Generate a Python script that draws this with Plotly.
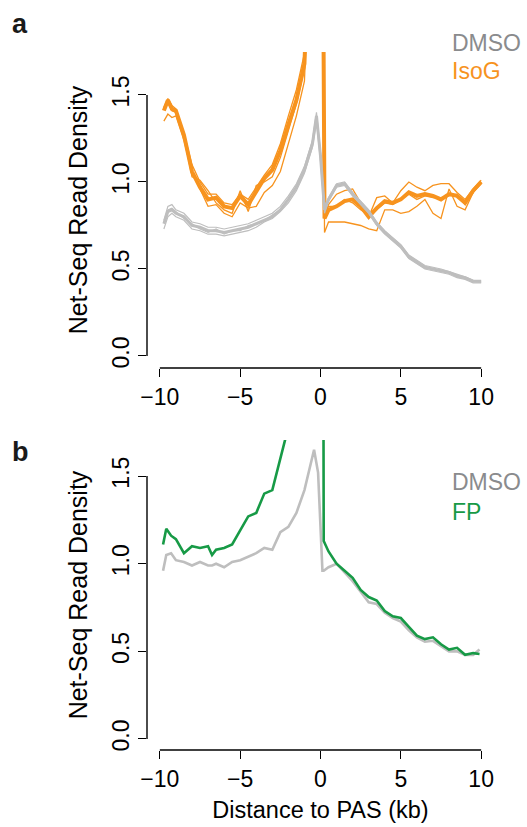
import plotly.graph_objects as go

# ---------------- Panel a data (distance to PAS, kb) ----------------
xa = [-9.75, -9.5, -9.25, -9.0, -8.5, -8.0, -7.5, -7.0, -6.5, -6.0, -5.5, -5.0, -4.5,
      -4.0, -3.5, -3.0, -2.5, -2.0, -1.5, -1.0, -0.5, -0.25, 0.0, 0.25, 0.5, 1.0,
      1.5, 2.0, 2.5, 3.0, 3.5, 4.0, 4.5, 5.0, 5.5, 6.0, 6.5, 7.0, 7.5, 8.0, 8.5,
      9.0, 9.5, 10.0]

dmso_a_mean = [0.76, 0.83, 0.84, 0.82, 0.80, 0.75, 0.74, 0.72, 0.72, 0.71, 0.72, 0.73,
               0.74, 0.76, 0.78, 0.80, 0.84, 0.90, 0.97, 1.07, 1.22, 1.38, 1.15, 0.84,
               0.90, 0.98, 0.99, 0.93, 0.88, 0.83, 0.76, 0.71, 0.67, 0.63, 0.57, 0.54,
               0.51, 0.50, 0.49, 0.48, 0.46, 0.45, 0.43, 0.43]
dmso_a_rep1 = [0.78, 0.86, 0.87, 0.84, 0.82, 0.77, 0.76, 0.74, 0.74, 0.73, 0.74, 0.75,
               0.76, 0.78, 0.80, 0.82, 0.86, 0.92, 0.99, 1.09, 1.24, 1.40, 1.17, 0.85,
               0.91, 0.99, 1.00, 0.94, 0.89, 0.84, 0.77, 0.72, 0.68, 0.64, 0.58, 0.55,
               0.52, 0.51, 0.50, 0.485, 0.47, 0.455, 0.435, 0.43]
dmso_a_rep2 = [0.73, 0.80, 0.82, 0.80, 0.78, 0.73, 0.72, 0.70, 0.70, 0.69, 0.70, 0.71,
               0.72, 0.74, 0.77, 0.79, 0.83, 0.88, 0.95, 1.05, 1.20, 1.35, 1.12, 0.82,
               0.89, 0.97, 0.98, 0.92, 0.87, 0.82, 0.75, 0.70, 0.66, 0.62, 0.56, 0.53,
               0.50, 0.49, 0.48, 0.47, 0.45, 0.44, 0.42, 0.42]
dmso_a_rep3 = [0.77, 0.84, 0.85, 0.83, 0.79, 0.76, 0.73, 0.71, 0.73, 0.70, 0.72, 0.72,
               0.75, 0.76, 0.78, 0.81, 0.84, 0.90, 0.97, 1.07, 1.23, 1.38, 1.15, 0.84,
               0.90, 0.98, 0.99, 0.93, 0.88, 0.83, 0.76, 0.71, 0.67, 0.63, 0.57, 0.54,
               0.51, 0.50, 0.49, 0.48, 0.46, 0.45, 0.43, 0.425]

isog_mean = [1.41, 1.47, 1.42, 1.41, 1.27, 1.06, 0.97, 0.90, 0.91, 0.86, 0.85, 0.92,
             0.87, 0.95, 1.02, 1.07, 1.18, 1.33, 1.47, 1.68, 2.6, 3.5, 5.0, 0.79,
             0.84, 0.86, 0.89, 0.90, 0.86, 0.80, 0.85, 0.89, 0.88, 0.90, 0.94, 0.92,
             0.93, 0.92, 0.90, 0.93, 0.92, 0.88, 0.95, 1.00]
isog_rep1 = [1.43, 1.48, 1.44, 1.42, 1.28, 1.10, 1.00, 0.93, 0.93, 0.88, 0.87, 0.93,
             0.90, 0.97, 1.04, 1.10, 1.22, 1.38, 1.53, 1.74, 2.7, 3.6, 5.2, 0.82,
             0.87, 0.93, 0.95, 0.96, 0.88, 0.80, 0.91, 0.92, 0.88, 0.95, 1.00, 0.97,
             0.95, 0.98, 0.99, 0.99, 0.94, 0.90, 0.96, 1.01]
isog_rep2 = [1.35, 1.39, 1.37, 1.38, 1.24, 1.05, 0.96, 0.86, 0.87, 0.82, 0.80, 0.88,
             0.85, 0.86, 0.94, 0.98, 1.06, 1.22, 1.38, 1.58, 2.4, 3.3, 4.8, 0.71,
             0.77, 0.77, 0.77, 0.76, 0.75, 0.73, 0.72, 0.84, 0.84, 0.82, 0.83, 0.86,
             0.90, 0.82, 0.79, 0.96, 0.86, 0.84, 0.94, 0.99]
isog_rep3 = [1.42, 1.46, 1.41, 1.40, 1.26, 1.03, 1.01, 0.95, 0.88, 0.84, 0.82, 0.95,
             0.83, 0.98, 1.00, 1.03, 1.14, 1.30, 1.45, 1.65, 2.5, 3.4, 5.0, 0.80,
             0.86, 0.86, 0.90, 0.88, 0.84, 0.81, 0.84, 0.88, 0.87, 0.90, 0.93, 0.90,
             0.92, 0.91, 0.91, 0.92, 0.93, 0.87, 0.94, 1.00]

# ---------------- Panel b data ----------------
xb = [-9.8, -9.6, -9.3, -9.0, -8.5, -8.0, -7.5, -7.0, -6.75, -6.5, -6.0, -5.5, -5.0,
      -4.5, -4.0, -3.5, -3.0, -2.5, -2.0, -1.5, -1.0, -0.4, -0.15, 0.12, 0.2, 0.5,
      1.0, 1.5, 2.0, 2.5, 3.0, 3.5, 4.0, 4.5, 5.0, 5.5, 6.0, 6.5, 7.0, 7.5, 8.0,
      8.5, 9.0, 9.5, 9.9]

dmso_b = [0.96, 1.05, 1.06, 1.02, 1.01, 0.99, 1.01, 0.99, 0.99, 1.00, 0.98, 1.01, 1.02,
          1.04, 1.06, 1.09, 1.08, 1.18, 1.21, 1.29, 1.42, 1.65, 1.52, 0.96, 0.96, 0.98,
          1.00, 0.95, 0.90, 0.84, 0.78, 0.77, 0.72, 0.69, 0.67, 0.62, 0.58, 0.555, 0.56,
          0.53, 0.50, 0.50, 0.48, 0.48, 0.51]
fp_b = [1.11, 1.20, 1.16, 1.14, 1.06, 1.10, 1.09, 1.10, 1.05, 1.08, 1.09, 1.11, 1.19,
        1.27, 1.29, 1.40, 1.42, 1.61, 1.78, 2.3, 2.8, 3.4, 3.8, 5.0, 1.13, 1.07,
        1.00, 0.96, 0.92, 0.85, 0.81, 0.79, 0.73, 0.70, 0.69, 0.64, 0.59, 0.57, 0.58,
        0.54, 0.51, 0.52, 0.48, 0.49, 0.485]

x_ticks = [-10, -5, 0, 5, 10]
y_ticks = [0.0, 0.5, 1.0, 1.5]

GRAY = "#BEBEBE"
ORANGE = "#F7931E"
GREEN = "#179A46"
LEG_GRAY = "#8A8B8D"
FONT = "Liberation Sans, Arial, sans-serif"
FS = 23

W, H = 527, 827
fig = go.Figure()

def line(x, y, color, width, xaxis, yaxis):
    fig.add_trace(go.Scatter(x=x, y=y, mode="lines", xaxis=xaxis, yaxis=yaxis,
                             line=dict(color=color, width=width), showlegend=False,
                             hoverinfo="skip"))

# panel a: orange first, gray on top
for rep in (isog_rep1, isog_rep2, isog_rep3):
    line(xa, rep, ORANGE, 1.3, "x", "y")
line(xa, isog_mean, ORANGE, 4, "x", "y")
for rep in (dmso_a_rep1, dmso_a_rep2, dmso_a_rep3):
    line(xa, rep, GRAY, 1.2, "x", "y")
line(xa, dmso_a_mean, GRAY, 3, "x", "y")

# panel b
line(xb, dmso_b, GRAY, 2.6, "x2", "y2")
line(xb, fp_b, GREEN, 2.6, "x2", "y2")

xdom = [147 / W, 494 / W]
dom_a = [1 - 368 / H, 1 - 52 / H]
dom_b = [1 - 750 / H, 1 - 440 / H]

xcommon = dict(range=[-10.8, 10.8], tickvals=x_ticks, ticks="outside", ticklen=8,
               tickwidth=1.4, tickcolor="black", showline=False, showgrid=False,
               zeroline=False, tickfont=dict(family=FONT, size=FS, color="black"),
               domain=xdom, fixedrange=True, automargin=False)
ycommon = dict(tickvals=y_ticks, tickformat=".1f", ticks="outside", ticklen=8,
               tickwidth=1.4, tickcolor="black", showline=False, showgrid=False,
               zeroline=False, tickangle=-90, automargin=False,
               tickfont=dict(family=FONT, size=FS, color="black"), fixedrange=True)
ytitle_font = dict(family=FONT, size=25, color="black")

fig.update_layout(
    width=W, height=H, margin=dict(l=0, r=0, t=0, b=0, autoexpand=False),
    paper_bgcolor="white", plot_bgcolor="white", showlegend=False,
    xaxis=dict(**xcommon, anchor="y"),
    yaxis=dict(**ycommon, domain=dom_a, range=[-0.069, 1.747], anchor="x",
               title=dict(text="Net-Seq Read Density", standoff=13, font=ytitle_font)),
    xaxis2=dict(**xcommon, anchor="y2",
                title=dict(text="Distance to PAS (kb)", standoff=10,
                           font=dict(family=FONT, size=23.5, color="black"))),
    yaxis2=dict(**ycommon, domain=dom_b, range=[-0.063, 1.706], anchor="x2",
                title=dict(text="Net-Seq Read Density", standoff=13, font=ytitle_font)),
)

# R-style axis lines spanning only the tick range
for xr, yr in (("x", "y"), ("x2", "y2")):
    fig.add_shape(type="line", xref=xr, yref=yr + " domain", x0=x_ticks[0], x1=x_ticks[-1],
                  y0=0, y1=0, line=dict(color="black", width=1.4))
    fig.add_shape(type="line", xref=xr + " domain", yref=yr, x0=0, x1=0,
                  y0=y_ticks[0], y1=y_ticks[-1], line=dict(color="black", width=1.4))

# legends and panel letters
def txt(text, x, y, color, bold=False, size=FS):
    fig.add_annotation(text=f"<b>{text}</b>" if bold else text, x=x, y=y,
                       xref="paper", yref="paper", xanchor="left", yanchor="middle",
                       showarrow=False, font=dict(family=FONT, size=size, color=color))

txt("DMSO", 450 / W, 1 - 43 / H, LEG_GRAY)
txt("IsoG", 450 / W, 1 - 71 / H, ORANGE)
txt("DMSO", 450 / W, 1 - 482 / H, LEG_GRAY)
txt("FP", 450 / W, 1 - 512 / H, GREEN)
txt("a", 10 / W, 1 - 24 / H, "#1a1a1a", bold=True, size=27)
txt("b", 10 / W, 1 - 452 / H, "#1a1a1a", bold=True, size=27)

fig.write_html("out.html", config={"displayModeBar": False},
               post_script="document.body.style.margin='0';document.body.style.overflow='hidden';")
